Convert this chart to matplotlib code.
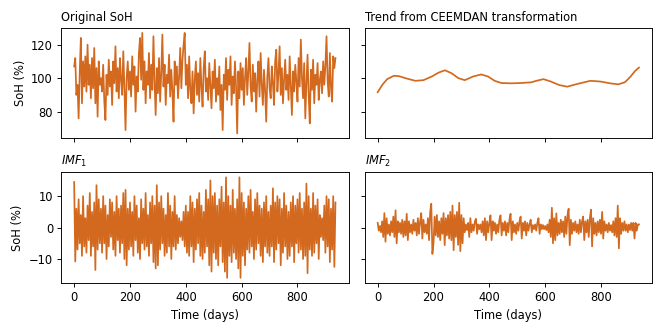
import numpy as np
import matplotlib
matplotlib.use("Agg")
import matplotlib.pyplot as plt

# sampling step of the noisy series (days)
step = 4

# original SoH, one value every 4 days (0..936)
soh = [107, 112, 90, 96, 76, 104, 124, 85, 110, 95, 113, 92, 120, 96, 108, 88, 112, 94, 118, 85, 106, 77, 110, 96, 100,
       92, 108, 86, 75, 102, 90, 111, 95, 104, 84, 110, 97, 119, 92, 106, 88, 112, 99, 90, 116, 94, 69, 100, 110, 93,
       104, 89, 113, 96, 107, 80, 101, 92, 115, 124, 99, 127, 93, 110, 85, 104, 96, 115, 88, 108, 93, 125, 98, 78, 106,
       91, 112, 86, 103, 126, 95, 108, 84, 102, 97, 114, 89, 105, 92, 74, 110, 96, 107, 88, 101, 118, 94, 111, 120, 127,
       96, 108, 88, 113, 93, 85, 104, 79, 99, 110, 90, 103, 86, 112, 95, 83, 106, 116, 92, 100, 87, 109, 95, 82, 104,
       94, 111, 86, 100, 90, 107, 81, 96, 69, 102, 93, 112, 87, 105, 96, 113, 84, 101, 91, 110, 95, 67, 104, 88, 109,
       93, 106, 84, 100, 112, 90, 104, 121, 95, 86, 108, 92, 103, 80, 99, 110, 89, 115, 96, 84, 105, 93, 74, 101, 112,
       94, 88, 107, 97, 84, 110, 117, 92, 103, 119, 90, 106, 85, 99, 111, 93, 102, 87, 113, 95, 78, 104, 92, 108, 98,
       86, 112, 95, 123, 100, 88, 109, 76, 97, 114, 90, 73, 105, 93, 111, 85, 102, 96, 109, 87, 99, 104, 91, 110, 96,
       108, 125, 98, 89, 115, 94, 86, 113, 106, 112]

imf1 = [14.5, -10.8, 6, -7, 9, -5, 4, -9, 10, -6, 3, -8, 7, -4, 11, -9, 5, -6, 8, -13.5, 13.5, -7, 9, -5, 6,
        -8, 10, -5, 7, -10, 4, -6, 9, -3, 8, -7, 5, -9, 10, -4, 6, -8, 7, -5, 11, -10, 12, -12, 6, -7,
        8, -6, 5, -9, 10, -4, 7, -8, 3, -10, 9, -5, 6, -7, 11, -6, 4, -9, 8, -5, 10, -11, 7, -13, 13.5,
        -12, 8, -7, 10, -5, 6, -9, 4, -8, 11, -6, 7, -10, 5, -6, 10, -7, 4, -5, 3, -3, 2, -4, 5, -6,
        7, -8, 5, -9, 10, -6, 8, -11, 6, -7, 9, -5, 11, -9, 7, -10, 5, -8, 12, -6, 9, -12, 15, -14, 10,
        -8, 11, -10, 7, -12, 9, -6, 13, -11, 8, -14, 16, -16, 10, -9, 7, -11, 12, -8, 6, -10, 9, -13, 16, -16,
        11, -9, 8, -12, 6, -7, 10, -8, 12, -6, 5, -10, 9, -7, 11, -5, 7, -9, 6, -11, 8, -6, 10, -8, 5,
        -9, 7, -6, 12.5, -11, 8, -7, 10, -5, 9, -12, 6, -8, 11, -6, 7, -10, 5, -9, 8, -6, 10, -11, 7, -5,
        9, -8, 11, -7, 6, -10, 8, -9, 14, -14.5, 10, -7, 6, -9, 11, -8, 7, -5, 9, -10, 4, -3, 3, -4, 7,
        -8, 10, -6, 9, -11, 6, -7, 10, -12.5, 8]

imf2 = [1.5, -1, 0.5, -1.5, 2, -3, 4.6, -4.5, 3, -2, 1, -2.5, 2, -1.5, 3.5, -3, 5.5, -5, 2, -1.5, 1.5, -2, 2.5, -3, 2,
        -2.5, 4.4, -4, 2, -1.5, 1, -2, 2.5, -1, 1.5, -2.5, 3, -2, 2, 4.6, -3.5, 2.5, -1.5, 1, -2, 3, -4, 5, 7.6, -8.4,
        -5, 3.5, -2.5, 4, -3, 2, -4, 3, -2, 4.6, -5.6, 3, -2.5, 4, -3.5, 5, -4, 7, -7.2, 4, -3, 5, -5.5, 7.9, -7.5,
        4, -5, 3, -1.5, 1, -0.8, 1.5, -3, 3, -1.5, 1, -1, 2, 2.8, -2, 1, -0.5, 1, -1.5, 2, -2.5, 3, -4, 2, -1.5,
        1.5, 3.9, -4, 2, -1, 1.5, -2, 1, -1.5, 2.5, 3.9, -2.5, 1.5, -1, 2, -2.5, 1.5, -1.5, 2.5, 4.4, -4, 2, -1.5, 1, -2,
        1.5, -1, 2, 3.5, -3.5, 1.5, -1, 2, -2.5, 1.5, -1, 1, 2.5, -1.5, 0.8, -0.5, 1, -1, 1.5, 3, -2, 1, -0.5, 0.8, -0.5,
        0.5, -0.8, 1, -1.5, 2.5, -3, 6.3, -5, 3, -4, 4.5, -2.5, 1.5, -2, 2.5, -1.5, 2, -3, 3.5, -2, 4, 6, -5.6, 2.5, -2,
        1.5, -1, 2, -1.5, 1, -2, 2.5, -1.5, 2, 3.5, -4, 2, -1.5, 2.5, -3, 3, 5.7, -6, 3, -2, 1.5, -2.5, 2, -1.5, 2.5,
        -2, 5, -3.5, 2, -1, 1, -1.5, 1.5, -1, 0.8, -1.5, 2, -2.5, 3, -3, 7, -6.6, 3, -2, 1.5, -1, 2, -1, 1, -1.5,
        1, -0.8, 1.5, -1, 1.5, -3.5, 1.5, -1, 1, 1]

# trend: day, value
trend_days = [0, 17, 34, 58, 76, 99, 135, 164, 194, 218, 241, 265, 289, 312, 342, 371, 395, 419,
              443, 478, 514, 549, 573, 594, 620, 650, 679, 714, 762, 797, 833, 862, 886, 904, 922, 936]
trend_vals = [91.6, 96.1, 99.4, 101.4, 101.2, 100.0, 98.4, 98.8, 101.0, 103.3, 104.7, 102.9, 100.0, 98.8,
              101.0, 102.2, 101.0, 98.4, 97.1, 96.9, 97.1, 97.5, 98.6, 99.4, 98.0, 95.9, 94.9, 96.5, 98.4,
              98.0, 96.9, 96.3, 97.6, 100.6, 104.3, 106.3]

color = '#d2691e'
days = np.arange(len(soh)) * step

fig, axes = plt.subplots(2, 2, figsize=(8, 4), dpi=83, sharex=True, sharey='row')
plt.subplots_adjust(left=0.092, right=0.982, top=0.916, bottom=0.148, wspace=0.056, hspace=0.306)

axes[0, 0].plot(days, soh, color=color, lw=1.5)
axes[0, 0].set_title('Original SoH', loc='left', fontsize=10)
axes[0, 1].plot(trend_days, trend_vals, color=color, lw=1.5)
axes[0, 1].set_title('Trend from CEEMDAN transformation', loc='left', fontsize=10)
axes[1, 0].plot(days, imf1, color=color, lw=1.5)
axes[1, 0].set_title(r'$IMF_1$', loc='left', fontsize=10)
axes[1, 1].plot(days, imf2, color=color, lw=1.5)
axes[1, 1].set_title(r'$IMF_2$', loc='left', fontsize=10)

axes[0, 0].set_ylabel('SoH (%)')
axes[1, 0].set_ylabel('SoH (%)')
axes[1, 0].set_xlabel('Time (days)')
axes[1, 1].set_xlabel('Time (days)')

axes[0, 0].set_yticks([80, 100, 120])
axes[1, 0].set_yticks([-10, 0, 10])
axes[1, 0].set_xticks([0, 200, 400, 600, 800])

fig.savefig('out.png', dpi=83)
